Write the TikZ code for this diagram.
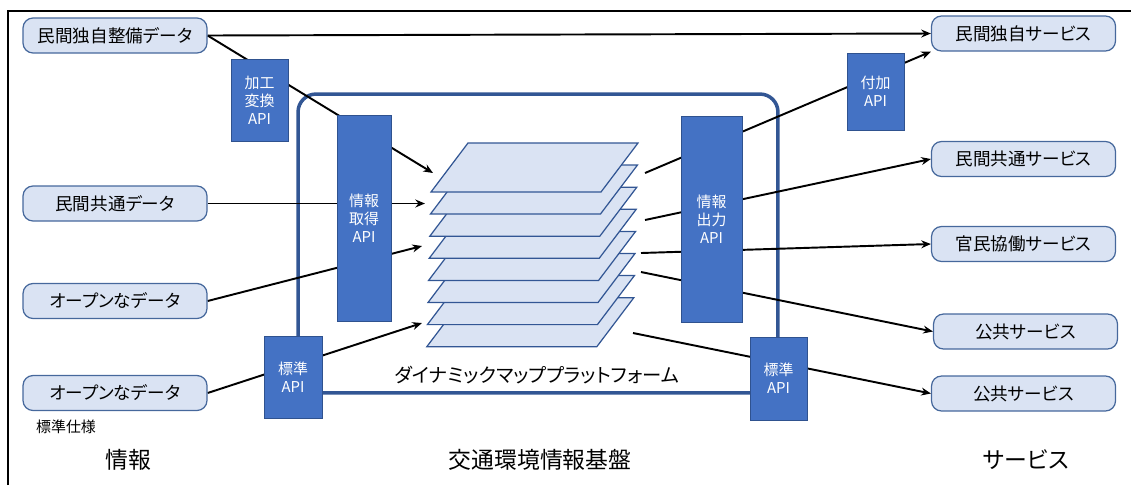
\documentclass[tikz,border=0pt]{standalone}
\usepackage{fontspec}
\setmainfont{Noto Sans CJK JP}[RawFeature=+palt]
\usetikzlibrary{arrows.meta, positioning, calc}
\pgfdeclarelayer{bg}
\pgfsetlayers{bg,main}

\definecolor{boxfill}{RGB}{218,227,243}
\definecolor{boxline}{RGB}{70,104,156}
\definecolor{apifill}{RGB}{68,114,196}
\definecolor{apiline}{RGB}{47,82,143}
\definecolor{pfline}{RGB}{50,86,148}

\begin{document}
\begin{tikzpicture}[
  x=0.02cm, y=-0.02cm,
  >={Stealth[length=5.5pt,width=4.5pt]},
  src/.style={draw=boxline, fill=boxfill, line width=0.7pt, rounded corners=0.2cm,
    minimum width=3.68cm, minimum height=0.7cm, font=\fontsize{10}{12}\selectfont},
  svc/.style={src},
  api/.style={draw=apiline, fill=apifill, line width=0.5pt, text=white, align=center,
    inner sep=0pt, font=\fontsize{8.5}{10.2}\selectfont},
  sheet/.style={draw=pfline, fill=boxfill, line width=0.7pt},
  link/.style={draw, line width=1.1pt},
  label/.style={font=\fontsize{13}{15}\selectfont}
  ]
  \useasboundingbox (0,0) rectangle (1131,485);
  % outer frame
  \draw[line width=1.6pt] (8,485) -- (8,11) -- (1131,11);

  % data sources
  \node[src] (d1) at (115,35.5) {民間独自整備データ};
  \node[src] (d2) at (115,203.5) {民間共通データ};
  \node[src] (d3) at (115,301) {オープンなデータ};
  \node[src] (d4) at (115,393) {オープンなデータ};
  \node[font=\fontsize{8.5}{10}\selectfont] (spec) at (66,427) {標準仕様};

  % services
  \node[svc] (s1) at (1023.5,33.5) {民間独自サービス};
  \node[svc] (s2) at (1023.5,159) {民間共通サービス};
  \node[svc] (s3) at (1023.5,244) {官民協働サービス};
  \node[svc] (s4) at (1025.5,331.5) {公共サービス};
  \node[svc] (s5) at (1023.5,393.5) {公共サービス};

  % map layers
  \foreach \i in {7,...,0} {
    \draw[sheet] ({431-0.6*\i},{192+22.1*\i}) -- ++(37,-49) -- ++(170,0) -- ++(-37,49) -- cycle;
  }
  \node[font=\fontsize{11}{13}\selectfont] (pftitle) at (537,375) {ダイナミックマッププラットフォーム};

  % APIs
  \node[api, minimum width=1.14cm, minimum height=1.64cm] (conv) at (259.5,100) {加工\\変換\\API};
  \node[api, minimum width=1.08cm, minimum height=4.12cm] (getapi) at (364,218) {情報\\取得\\API};
  \node[api, minimum width=1.22cm, minimum height=4.12cm] (outapi) at (711.5,219) {情報\\出力\\API};
  \node[api, minimum width=1.14cm, minimum height=1.54cm] (addapi) at (875.5,91.5) {付加\\API};
  \node[api, minimum width=1.16cm, minimum height=1.64cm] (stdin) at (293,377) {標準\\API};
  \node[api, minimum width=1.14cm, minimum height=1.66cm] (stdout) at (778.5,378.5) {標準\\API};

  % arrow ends on the layers
  \coordinate (in1) at (433,173);
  \coordinate (in2) at (425,203.5);
  \coordinate (in3) at (422,246);
  \coordinate (in4) at (422,323);
  \coordinate (out1) at (645,173);
  \coordinate (out2) at (645,220);
  \coordinate (out3) at (641,253);
  \coordinate (out4) at (641,272);
  \coordinate (out5) at (633,333);

  % bottom labels
  \node[label] (lblinfo) at (128,460) {情報};
  \node[label] (lblbase) at (540,460) {交通環境情報基盤};
  \node[label] (lblsvc) at (1026,460) {サービス};

  \begin{pgfonlayer}{bg}
    \node[draw=pfline, line width=2pt, rounded corners=0.36cm,
      minimum width=9.6cm, minimum height=5.98cm] (pf) at (538,243.5) {};
    \draw[link,->] (d1.east) -- (s1.west);
    \draw[link,->] (d1.east) -- (in1);
    \draw[link,->] (d2.east) -- (in2);
    \draw[link,->] (d3.east) -- (in3);
    \draw[link,->] (d4.east) -- (in4);
    \draw[link,->] (out1) -- (s1.south west);
    \draw[link,->] (out2) -- (s2.west);
    \draw[link,->] (out3) -- (s3.west);
    \draw[link,->] (out4) -- (s4.west);
    \draw[link,->] (out5) -- (s5.west);
  \end{pgfonlayer}
\end{tikzpicture}
\end{document}
